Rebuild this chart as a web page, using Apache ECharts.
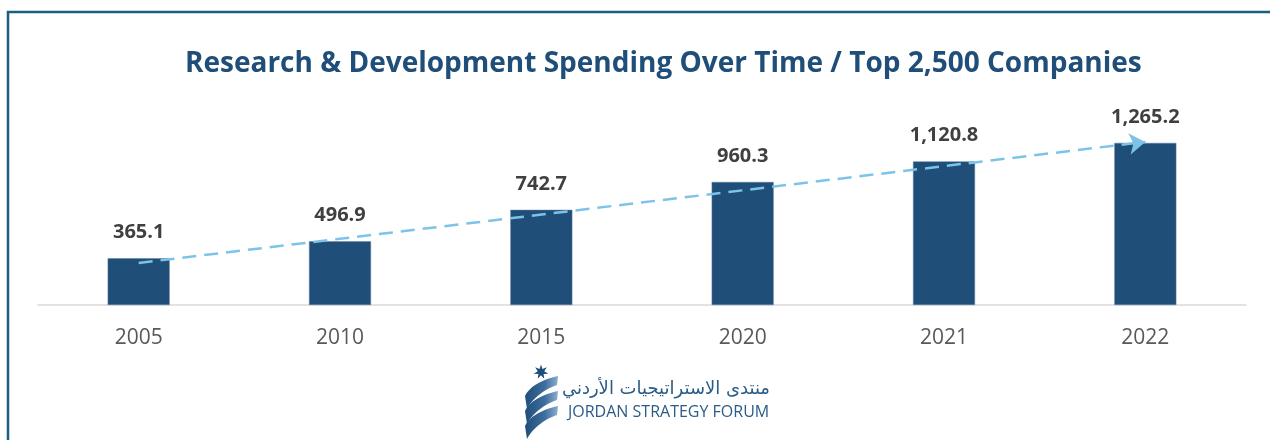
<!DOCTYPE html>
<html>
<head>
<meta charset="utf-8">
<script src="https://cdn.jsdelivr.net/npm/echarts@6/dist/echarts.min.js"></script>
<style>
html,body{margin:0;padding:0;background:#fff;}
#chart{width:1270px;height:440px;}
</style>
</head>
<body>
<div id="chart"></div>
<script>
// ---- data ----
const categories = ['2005', '2010', '2015', '2020', '2021', '2022'];
const spending = [365.1, 496.9, 742.7, 960.3, 1120.8, 1265.2];
const trendFrom = ['2005', 328];
const trendTo = ['2022', 1273];
const titleText = 'Research & Development Spending Over Time / Top 2,500 Companies';
const logoArabic = 'منتدى الاستراتيجيات الأردني';
const logoEnglish = 'JORDAN STRATEGY FORUM';

// ---- logo decoration helpers ----
function starPoints(cx, cy, rOut, rIn, n) {
  const pts = [];
  for (let i = 0; i < n * 2; i++) {
    const r = i % 2 === 0 ? rOut : rIn;
    const a = -Math.PI / 2 + i * Math.PI / n;
    pts.push([cx + r * Math.cos(a), cy + r * Math.sin(a)]);
  }
  return pts;
}
function bez(p0, p1, p2, p3, steps) {
  const out = [];
  for (let i = 0; i <= steps; i++) {
    const t = i / steps, u = 1 - t;
    out.push([
      u*u*u*p0[0] + 3*u*u*t*p1[0] + 3*u*t*t*p2[0] + t*t*t*p3[0],
      u*u*u*p0[1] + 3*u*u*t*p1[1] + 3*u*t*t*p2[1] + t*t*t*p3[1]
    ]);
  }
  return out;
}
function ribbon(dy) {
  const top = bez([525, 396 + dy], [530, 385 + dy], [545, 379 + dy], [558, 376 + dy], 12);
  const bot = bez([557, 385 + dy], [546, 389 + dy], [534, 396 + dy], [527, 409 + dy], 12);
  return top.concat(bot);
}
function ribbonFill() {
  return new echarts.graphic.LinearGradient(0, 0, 1, 0, [
    {offset: 0, color: '#1F4E79'}, {offset: 0.6, color: '#3F6E9E'}, {offset: 1, color: '#8AAED0'}
  ]);
}

const chart = echarts.init(document.getElementById('chart'), null, {renderer: 'canvas'});
chart.setOption({
  animation: false,
  backgroundColor: '#ffffff',
  title: {
    text: titleText,
    left: 180,
    top: 45,
    textStyle: {fontFamily: 'Open Sans', fontWeight: 'bold', fontSize: 28, color: '#1F4E79'}
  },
  grid: {left: 38, right: 24, top: 100, bottom: 135},
  xAxis: {
    type: 'category',
    data: categories,
    axisLine: {show: true, lineStyle: {color: '#D9D9D9', width: 1.5}},
    axisTick: {show: false},
    axisLabel: {color: '#595959', fontFamily: 'Open Sans', fontSize: 21, margin: 23}
  },
  yAxis: {
    type: 'value', min: 0, max: 1600, show: false,
    splitLine: {show: false}
  },
  series: [{
    type: 'bar',
    data: spending,
    barWidth: 62,
    itemStyle: {color: '#1F4E79', borderColor: '#5B82A8', borderWidth: 0.5},
    label: {
      show: true, position: 'top', distance: 16,
      fontFamily: 'Open Sans', fontWeight: 'bold', fontSize: 20, color: '#404040',
      formatter: p => p.value.toLocaleString('en-US', {minimumFractionDigits: 1, maximumFractionDigits: 1})
    },
    markLine: {
      silent: true,
      symbol: ['none', 'arrow'],
      symbolSize: 16,
      label: {show: false},
      lineStyle: {color: '#7DC3E8', type: [14, 8], width: 2.5},
      data: [[{coord: trendFrom}, {coord: trendTo}]],
      z: 10
    }
  }],
  graphic: [
    {type: 'rect', shape: {x: 8, y: 12, width: 1300, height: 500},
     style: {fill: 'none', stroke: '#1B5E83', lineWidth: 2.5}, silent: true},
    {type: 'polygon', shape: {points: starPoints(541, 372, 7.5, 3.3, 7)}, style: {fill: '#1F4E79'}},
    {type: 'polygon', shape: {points: ribbon(0)}, style: {fill: ribbonFill()}},
    {type: 'polygon', shape: {points: ribbon(15)}, style: {fill: ribbonFill()}},
    {type: 'polygon', shape: {points: ribbon(30)}, style: {fill: ribbonFill()}},
    {type: 'text', style: {text: logoArabic, x: 770, y: 389, align: 'right', verticalAlign: 'middle',
      font: '18px "DejaVu Sans"', fill: '#2B5B87'}},
    {type: 'text', style: {text: logoEnglish, x: 568, y: 412, align: 'left', verticalAlign: 'middle',
      font: '16px "Open Sans"', fill: '#2B5B87'}}
  ]
});
</script>
</body>
</html>
